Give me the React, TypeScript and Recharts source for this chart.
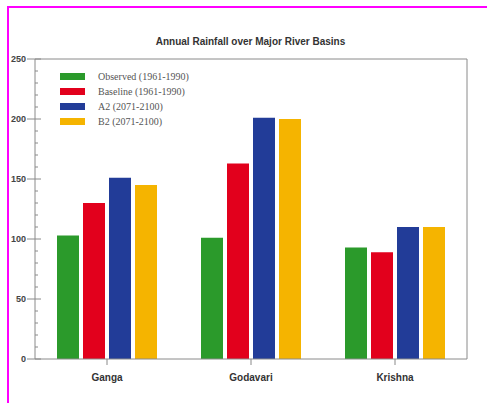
import React from 'react';
import { BarChart, Bar, XAxis, YAxis, ReferenceLine } from 'recharts';

const basins = ['Ganga', 'Godavari', 'Krishna'];
const observed = [103, 101, 93];
const baseline = [130, 163, 89];
const a2 = [151, 201, 110];
const b2 = [145, 200, 110];

const seriesNames = [
  'Observed (1961-1990)',
  'Baseline (1961-1990)',
  'A2 (2071-2100)',
  'B2 (2071-2100)',
];
const seriesKeys = ['observed', 'baseline', 'a2', 'b2'];
const colors = ['#2b9a2b', '#e2001c', '#223c98', '#f5b400'];

const majorTicks = [0, 50, 100, 150, 200, 250];
const allTicks = [0, 10, 20, 30, 40, 50, 60, 70, 80, 90, 100, 110, 120, 130, 140, 150, 160, 170, 180, 190, 200, 210, 220, 230, 240, 250];

const data = basins.map((name, i) => ({
  name,
  observed: observed[i],
  baseline: baseline[i],
  a2: a2[i],
  b2: b2[i],
}));

const axisColor = '#8a8a8a';

const LeftTick = (props: any) => {
  const { x, y, payload } = props;
  const major = majorTicks.includes(payload.value);
  return (
    <g>
      <line x1={x + 8} x2={x + (major ? 14 : 11)} y1={y} y2={y} stroke={axisColor} />
      {major && <line x1={x} x2={x + 8} y1={y} y2={y} stroke={axisColor} />}
      {major && (
        <text x={x - 1} y={y} dy={3} textAnchor="end" fontSize={9} fontWeight="bold" fill="#444" fontFamily="Liberation Sans, Arial, sans-serif">
          {payload.value}
        </text>
      )}
    </g>
  );
};

const RightTick = (props: any) => {
  const { x, y, payload } = props;
  const major = majorTicks.includes(payload.value);
  return <line x1={x} x2={x - (major ? 6 : 3)} y1={y} y2={y} stroke={axisColor} />;
};

const BottomTick = (props: any) => {
  const { x, y, payload } = props;
  return (
    <g>
      <line x1={x} x2={x} y1={y - 8} y2={y - 2} stroke={axisColor} />
      <text x={x} y={y + 14} textAnchor="middle" fontSize={10} fontWeight="bold" fill="#333" fontFamily="Liberation Sans, Arial, sans-serif">
        {payload.value}
      </text>
    </g>
  );
};

export default function App() {
  return (
    <div style={{ position: 'absolute', left: 0, top: 0, width: 487, height: 403, background: '#fff' }}>
      <div
        style={{
          position: 'absolute',
          left: 7,
          top: 6,
          width: 480,
          height: 397,
          borderTop: '2px solid #ff00ff',
          borderLeft: '2px solid #ff00ff',
          boxSizing: 'border-box',
        }}
      />
      <div
        style={{
          position: 'absolute',
          left: 0,
          width: 487,
          top: 36,
          textAlign: 'center',
          paddingLeft: 14,
          boxSizing: 'border-box',
          fontFamily: 'Liberation Sans, Arial, sans-serif',
          fontWeight: 'bold',
          fontSize: 10,
          color: '#333',
        }}
      >
        Annual Rainfall over Major River Basins
      </div>
      <BarChart
        width={487}
        height={403}
        data={data}
        margin={{ top: 59, right: 0, bottom: 14, left: 0 }}
        barSize={22}
        barGap={4}
        style={{ position: 'absolute', left: 0, top: 0 }}
      >
        <XAxis dataKey="name" axisLine={{ stroke: axisColor }} tickLine={false} tick={<BottomTick />} />
        <YAxis
          width={35}
          domain={[0, 250]}
          ticks={allTicks}
          interval={0}
          axisLine={{ stroke: axisColor }}
          tickLine={false}
          tick={<LeftTick />}
        />
        <YAxis
          yAxisId="r"
          orientation="right"
          width={20}
          domain={[0, 250]}
          ticks={allTicks}
          interval={0}
          axisLine={{ stroke: axisColor }}
          tickLine={false}
          tick={<RightTick />}
        />
        <ReferenceLine y={250} stroke={axisColor} />
        {seriesKeys.map((k, i) => (
          <Bar key={k} dataKey={k} name={seriesNames[i]} fill={colors[i]} isAnimationActive={false} />
        ))}
      </BarChart>
      <div
        style={{
          position: 'absolute',
          left: 60,
          top: 69,
          fontFamily: 'Liberation Serif, Times New Roman, serif',
          fontSize: 10,
          color: '#555',
        }}
      >
        {seriesNames.map((n, i) => (
          <div key={n} style={{ display: 'flex', alignItems: 'center', height: 15 }}>
            <span style={{ display: 'inline-block', width: 25, height: 7, background: colors[i], marginRight: 13 }} />
            <span>{n}</span>
          </div>
        ))}
      </div>
    </div>
  );
}
